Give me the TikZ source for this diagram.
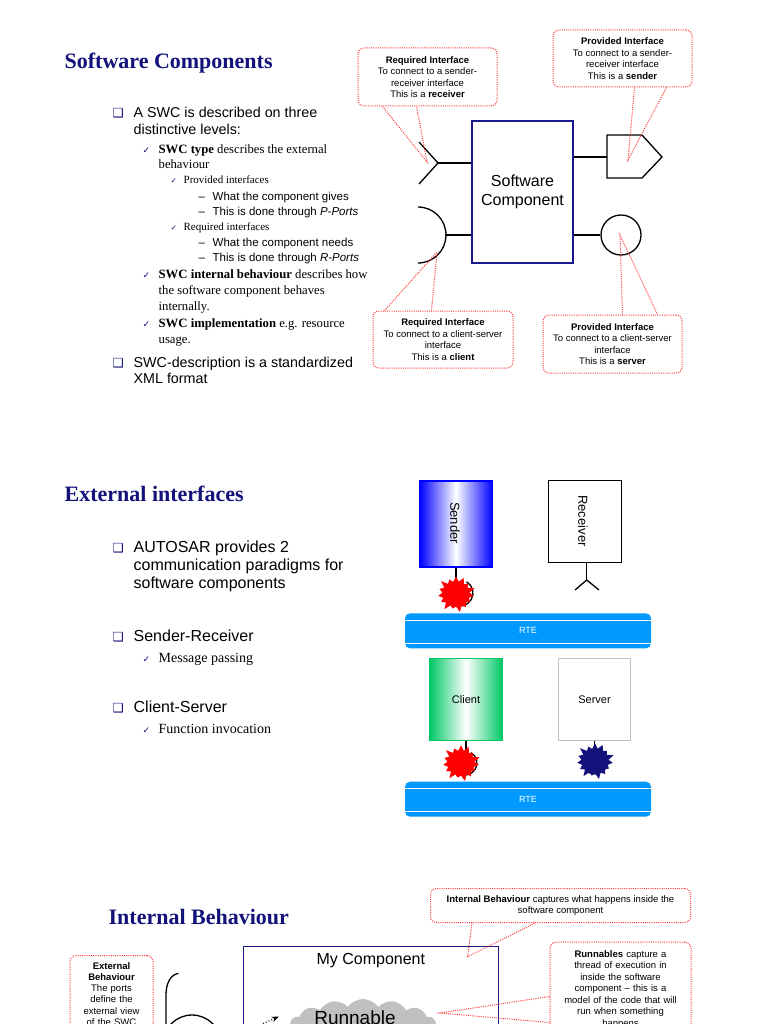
\documentclass[tikz,border=0pt]{standalone}
\usepackage{fontspec}
\setmainfont{Liberation Serif}
\setsansfont{Liberation Sans}
\newfontfamily\symfont{DejaVu Sans}
\usepackage{xcolor}
\usepackage{tikz}
\usetikzlibrary{shapes.symbols, arrows.meta, positioning}

\definecolor{navy}{HTML}{12127A}
\definecolor{swcblue}{HTML}{1A1A8C}
\definecolor{rteblue}{HTML}{0099FF}
\definecolor{swcgreen}{HTML}{00C864}
\definecolor{notered}{HTML}{FF3838}
\definecolor{cloudgray}{HTML}{C0C0C0}

\newcommand{\fsz}[2]{\fontsize{#1}{#2}\selectfont}

\begin{document}
\begin{tikzpicture}[x=1pt, y=-1pt, >=Stealth, line width=1.3pt,
    slidetitle/.style={anchor=base west, inner sep=0pt, font=\fsz{22}{26}\bfseries, text=navy},
    boxbullet/.style={anchor=base west, inner sep=0pt, font=\symfont\fsz{12.5}{14}, text=navy},
    chk/.style={anchor=base west, inner sep=0pt, font=\symfont\fsz{9}{15.5}, text=navy},
    lvlone/.style={anchor=base west, inner sep=0pt, align=left, font=\sffamily\fsz{14.3}{17.7}},
    lvltwo/.style={anchor=base west, inner sep=0pt, align=left, font=\fsz{12.7}{16.2}},
    lvlthree/.style={anchor=base west, inner sep=0pt, align=left, font=\fsz{11}{13}},
    lvlfour/.style={anchor=base west, inner sep=0pt, align=left, font=\sffamily\fsz{11.5}{15}},
    tipbox/.style={draw=notered, line width=1pt, dash pattern=on 1pt off 1.2pt, rounded corners=6pt,
        fill=white, align=center, font=\sffamily\fsz{9.5}{11.5}},
    tipline/.style={draw=notered, line width=1pt, dash pattern=on 1pt off 1.2pt},
    rte/.style={fill=rteblue, rounded corners=5pt, minimum width=246pt, minimum height=35pt,
        text=white, font=\sffamily\fsz{9}{11}},
    burst/.style={starburst, starburst points=15, starburst point height=7pt, random starburst=100,
        draw=none, minimum width=41pt, minimum height=39pt, inner sep=0pt}
  ]
  \useasboundingbox (0,0) rectangle (768,1024);
  \clip (0,0) rectangle (768,1024);
  \fill[white] (0,0) rectangle (768,1024);

  % --- software components (multi-line texts sit on their last baseline)
  \node[slidetitle] (t1) at (64,68.5) {Software Components};
  \node[boxbullet] (q1) at (112,117.3) {❑};
  \node[lvlone] (l1) at (133,135) {A SWC is described on three\\distinctive levels:};
  \node[chk] (k1) at (142,154) {✓};
  \node[lvltwo, font=\fsz{12.7}{14.5}] (l2) at (158,168.5) {\textbf{SWC type} describes the external\\behaviour};
  \node[chk, font=\symfont\fsz{7.5}{9}] (k2) at (170,183.3) {✓};
  \node[lvlthree] (l3) at (183,183.3) {Provided interfaces};
  \node[lvlfour] (d1) at (198,215) {--\\--};
  \node[lvlfour] (l4) at (212,215) {What the component gives\\This is done through \textit{P-Ports}};
  \node[chk, font=\symfont\fsz{7.5}{9}] (k3) at (170,230) {✓};
  \node[lvlthree] (l5) at (183,230) {Required interfaces};
  \node[lvlfour] (d2) at (198,261.7) {--\\--};
  \node[lvlfour] (l6) at (212,261.7) {What the component needs\\This is done through \textit{R-Ports}};
  \node[chk] (k4) at (142,278.3) {✓};
  \node[lvltwo] (l7) at (158,310.7) {\textbf{SWC internal behaviour} describes how\\the software component behaves\\internally.};
  \node[chk] (k5) at (142,327.3) {✓};
  \node[lvltwo] (l8) at (158,343.3) {\textbf{SWC implementation} e.g. resource\\usage.};
  \node[boxbullet] (q2) at (112,367.3) {❑};
  \node[lvlone, font=\sffamily\fsz{14.3}{16}] (l9) at (133,383.3) {SWC-description is a standardized\\XML format};

  \node[draw=swcblue, line width=1.5pt, minimum width=101pt, minimum height=142pt, align=center,
        font=\sffamily\fsz{16}{18.5}] (swc) at (522.5,192) {Software\\Component};

  % ports
  \coordinate (rrport) at (438,163);
  \draw (rrport) -- (rrport -| swc.west);
  \draw (419,142) -- (rrport) -- (419,184);
  \coordinate (rcport) at (445,235);
  \draw (rcport) -- (rcport -| swc.west);
  \draw (418,207) arc[start angle=-90, end angle=90, radius=28];
  \coordinate (psport) at (607,157);
  \draw (psport -| swc.east) -- (psport);
  \draw (607,135) -- (642,135) -- (662,157) -- (642,178) -- (607,178) -- cycle;
  \node[circle, draw, minimum size=40pt, inner sep=0pt] (srvport) at (621,235) {};
  \draw (srvport.west -| swc.east) -- (srvport.west);

  % notes
  \node[tipbox, minimum width=139pt, minimum height=58pt] (rrnote) at (427.5,77)
    {\textbf{Required Interface}\\To connect to a sender-\\receiver interface\\This is a \textbf{receiver}};
  \node[tipbox, minimum width=139pt, minimum height=57pt] (psnote) at (622.5,58.5)
    {\textbf{Provided Interface}\\To connect to a sender-\\receiver interface\\This is a \textbf{sender}};
  \node[tipbox, minimum width=140pt, minimum height=57pt] (rcnote) at (443,339.5)
    {\textbf{Required Interface}\\To connect to a client-server\\interface\\This is a \textbf{client}};
  \node[tipbox, minimum width=139pt, minimum height=58pt] (srvnote) at (612.5,344)
    {\textbf{Provided Interface}\\To connect to a client-server\\interface\\This is a \textbf{server}};
  \coordinate (rrtip) at (427,162);
  \coordinate (pstip) at (628,160);
  \coordinate (rctip) at (437,252);
  \coordinate (srvtip) at (620,235);
  \draw[tipline] ([xshift=25pt]rrnote.south west) -- (rrtip) -- ([xshift=59pt]rrnote.south west);
  \draw[tipline] ([xshift=82pt]psnote.south west) -- (pstip) -- ([xshift=114pt]psnote.south west);
  \draw[tipline] ([xshift=12pt]rcnote.north west) -- (rctip) -- ([xshift=59pt]rcnote.north west);
  \draw[tipline] ([xshift=80pt]srvnote.north west) -- (srvtip) -- ([xshift=115pt]srvnote.north west);

  % --- external interfaces
  \node[slidetitle] (t2) at (64,501.5) {External interfaces};
  \node[boxbullet] (q3) at (112,552.3) {❑};
  \node[lvlone, font=\sffamily\fsz{16}{18}] (l10) at (133,588.3) {AUTOSAR provides 2\\communication paradigms for\\software components};
  \node[boxbullet] (q4) at (112,641.7) {❑};
  \node[lvlone, font=\sffamily\fsz{16}{18}] (l11) at (133,641.7) {Sender-Receiver};
  \node[chk] (k6) at (142,662.7) {✓};
  \node[lvltwo, font=\fsz{14}{16}] (l12) at (158,662.7) {Message passing};
  \node[boxbullet] (q5) at (112,712.7) {❑};
  \node[lvlone, font=\sffamily\fsz{16}{18}] (l13) at (133,712.7) {Client-Server};
  \node[chk] (k7) at (142,733.3) {✓};
  \node[lvltwo, font=\fsz{14}{16}] (l14) at (158,733.3) {Function invocation};

  \node[draw=blue, left color=blue, right color=blue, middle color=white,
        minimum width=73pt, minimum height=86pt] (send) at (456,524) {};
  \node[rotate=-90, font=\sffamily\fsz{13}{15}] (sendlbl) at (455,523) {Sender};
  \node[draw, minimum width=73pt, minimum height=82pt] (recv) at (584.7,521.7) {};
  \node[rotate=-90, font=\sffamily\fsz{13}{15}] (recvlbl) at (583,521) {Receiver};
  \coordinate (recvfork) at (586.7,580);
  \draw (recvfork |- recv.south) -- (recvfork);
  \draw (575,590) -- (recvfork) -- (599,590);

  \coordinate (sendsock) at (460,593);
  \draw (send.south) -- ++(0,12);
  \draw ([shift={(-60:13)}]sendsock) arc[start angle=-60, end angle=120, radius=13];
  \node[burst, fill=red] (sendburst) at (456,594) {};

  \node[rte] (rte1) at (528,630.8) {RTE};
  \draw[white, line width=0.8pt] ([yshift=-7.4pt]rte1.north west) -- ([yshift=-7.4pt]rte1.north east);
  \draw[white, line width=0.8pt] ([yshift=5.6pt]rte1.south west) -- ([yshift=5.6pt]rte1.south east);

  \node[draw=swcgreen, left color=swcgreen, right color=swcgreen, middle color=white,
        minimum width=73pt, minimum height=82pt, font=\sffamily\fsz{11}{13}] (client) at (466,699.5) {Client};
  \node[draw=black!25, line width=1.6pt, minimum width=72pt, minimum height=82pt,
        font=\sffamily\fsz{11}{13}] (server) at (594.5,699.5) {Server};

  \coordinate (clientsock) at (465,763);
  \draw (client.south) -- ++(0,10);
  \draw ([shift={(-60:12)}]clientsock) arc[start angle=-60, end angle=120, radius=12];
  \node[burst, fill=red] (clientburst) at (461,763) {};
  \coordinate (serversock) at (595,762);
  \draw (server.south) -- ++(0,10);
  \draw ([shift={(10:12)}]serversock) arc[start angle=10, end angle=170, radius=12];
  \node[burst, fill=navy] (serverburst) at (595,761) {};

  \node[rte] (rte2) at (528,799.2) {RTE};
  \draw[white, line width=0.8pt] ([yshift=-7.4pt]rte2.north west) -- ([yshift=-7.4pt]rte2.north east);
  \draw[white, line width=0.8pt] ([yshift=5.6pt]rte2.south west) -- ([yshift=5.6pt]rte2.south east);

  % --- internal behaviour
  \node[slidetitle] (t3) at (108,924) {Internal Behaviour};
  \node[tipbox, minimum width=260pt, minimum height=34pt] (ibnote) at (560.5,905.5)
    {\textbf{Internal Behaviour} captures what happens inside the\\software component};
  \node[draw=swcblue, line width=1.5pt, minimum width=255pt, minimum height=120pt,
        anchor=north west] (myc) at (242.6,945.7) {};
  \node[font=\sffamily\fsz{16}{18}, below=4pt of myc.north] (myclbl) {My Component};
  \coordinate (ibtip) at (467.6,956.7);
  \draw[tipline] ([xshift=42pt]ibnote.south west) -- (ibtip) -- ([xshift=105pt]ibnote.south west);

  \node[cloud, cloud puffs=15, cloud puff arc=110, aspect=3.6, fill=cloudgray, minimum width=148pt,
        minimum height=56pt] (runcloud) at (363,1027) {};
  \node[font=\sffamily\fsz{19}{21}] (runlbl) at (355,1018) {Runnable};
  \coordinate (arrtail) at (263,1023.5);
  \coordinate (arrhead) at (279,1016.5);
  \draw[->, line width=1pt, dotted] (arrtail) -- (arrhead);

  \node[tipbox, anchor=north, minimum width=141pt, text width=130pt, inner ysep=8pt] (runnote) at (620.5,941.7)
    {\textbf{Runnables} capture a\\thread of execution in\\inside the software\\component -- this is a\\model of the code that will\\run when something\\happens};
  \coordinate (runtip) at (440,1013);
  \draw[tipline] ([yshift=-8pt]runnote.west |- 0,988.5) -- (runtip) -- ([yshift=-34pt]runnote.west |- 0,988.5);

  \node[tipbox, anchor=north, minimum width=83pt, text width=76pt, inner ysep=7pt,
        font=\sffamily\fsz{9.5}{11.2}] (extnote) at (111.5,955)
    {\textbf{External}\\\textbf{Behaviour}\\The ports\\define the\\external view\\of the SWC};
  \draw (178.3,973.3) .. controls (170,975) and (166,984) .. (166,995) -- (166,1030);
  \node[circle, draw, minimum size=58pt, inner sep=0pt] (extport) at (192,1044) {};
\end{tikzpicture}
\end{document}
